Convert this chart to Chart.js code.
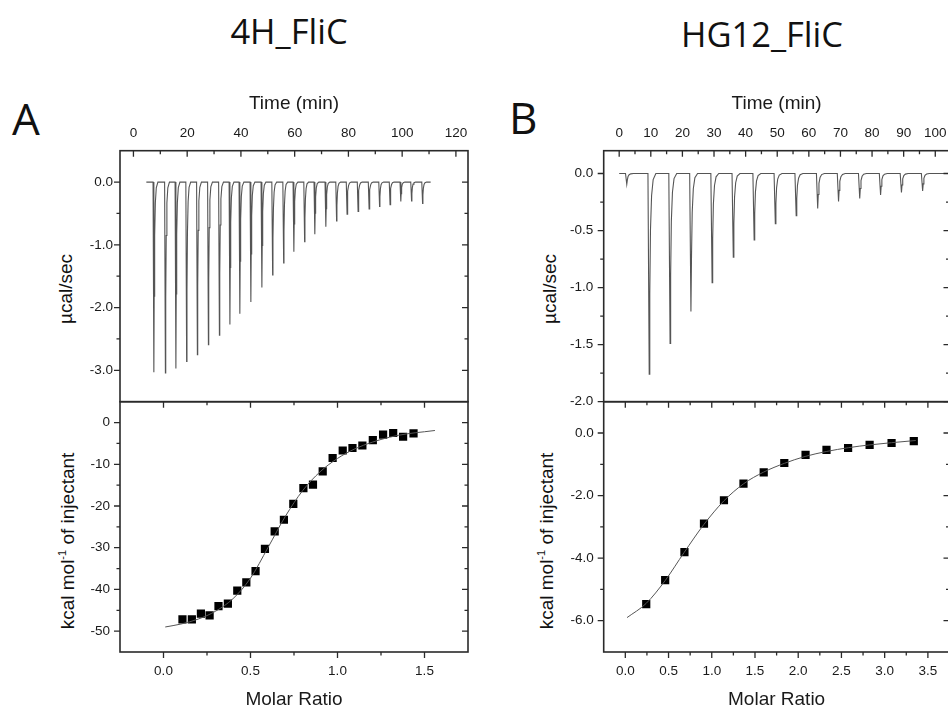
<!DOCTYPE html>
<html>
<head>
<meta charset="utf-8">
<script src="https://cdn.jsdelivr.net/npm/chart.js@4.4.1/dist/chart.umd.min.js"></script>
<style>
  body { margin: 0; width: 948px; height: 708px; overflow: hidden; position: relative; background: #fff; }
  canvas { position: absolute; left: 0; top: 0; }
  .ttl { position: absolute; font-family: 'Open Sans', sans-serif; color: #111; line-height: 1; white-space: nowrap; }
  .ylab { position: absolute; font-family: 'Liberation Sans', Arial, sans-serif; font-size: 19px; color: #111;
          line-height: 1; white-space: nowrap; transform: translate(-50%, -50%) rotate(-90deg); }
  .ylab sup { font-size: 11px; line-height: 0; }
</style>
</head>
<body>
<div class="ttl" style="font-size:34.5px;left:289px;top:14px;transform:translateX(-50%)">4H_FliC</div>
<div class="ttl" style="font-size:34.5px;left:762px;top:17px;transform:translateX(-50%)">HG12_FliC</div>
<div class="ttl" style="font-size:44px;left:12px;top:96px">A</div>
<div class="ttl" style="font-size:44px;left:509px;top:95px">B</div>
<div class="ylab" style="left:65px;top:289px">µcal/sec</div>
<div class="ylab" style="left:67px;top:541px">kcal mol<sup>-1</sup> of injectant</div>
<div class="ylab" style="left:549px;top:289px">µcal/sec</div>
<div class="ylab" style="left:546px;top:541px">kcal mol<sup>-1</sup> of injectant</div>

<canvas id="aTop" width="960" height="730"></canvas>
<canvas id="aBot" width="960" height="730"></canvas>
<canvas id="bTop" width="960" height="730"></canvas>
<canvas id="bBot" width="960" height="730"></canvas>

<script>
// ---- panel A: 4H_FliC ----
// injection peaks (time in min, minimum in µcal/sec)
const peakTimeA  = [7.6, 11.9, 15.8, 19.8, 23.8, 27.9, 32.0, 35.9, 39.6, 43.7, 47.8, 51.8, 55.9,
                    59.7, 63.7, 67.5, 71.6, 75.6, 79.5, 83.6, 87.7, 91.6, 95.5, 99.5, 103.5, 107.6]
const peakDepthA = [-3.03, -3.04, -2.97, -2.86, -2.75, -2.59, -2.44, -2.27, -2.10, -1.91, -1.68, -1.48, -1.29,
                    -1.11, -0.95, -0.83, -0.71, -0.62, -0.51, -0.47, -0.43, -0.39, -0.36, -0.31, -0.30, -0.34]
const baselineA  = [4.8, 110.6]
// integrated heats
const ratioA = [0.109, 0.163, 0.215, 0.265, 0.316, 0.370, 0.424, 0.476, 0.529, 0.583, 0.639, 0.692, 0.746,
                0.804, 0.859, 0.915, 0.972, 1.030, 1.086, 1.143, 1.203, 1.262, 1.320, 1.377, 1.437]
const heatA  = [-47.2, -47.2, -45.8, -46.2, -44.0, -43.4, -40.3, -38.3, -35.6, -30.3, -26.1, -23.3, -19.5,
                -15.7, -14.9, -11.7, -8.5, -6.7, -6.1, -5.5, -4.2, -2.9, -2.5, -3.4, -2.6]
// fitted curve
const fitXA = [0.01, 0.1, 0.2, 0.3, 0.4, 0.5, 0.6, 0.7, 0.8, 0.9, 1.0, 1.1, 1.2, 1.3, 1.4, 1.5, 1.56]
const fitYA = [-49.0, -48.3, -47.1, -45.2, -42.2, -37.3, -30.0, -22.5, -16.3, -11.8, -8.6, -6.3, -4.7, -3.5, -2.7, -2.2, -1.9]

// ---- panel B: HG12_FliC ----
const peakTimeB  = [2.4, 9.5, 16.1, 22.7, 29.4, 36.1, 42.7, 49.4, 56.0, 62.8, 69.4, 76.1, 82.7, 89.3, 96.0]
const peakDepthB = [-0.094, -1.76, -1.49, -1.21, -0.956, -0.734, -0.582, -0.44, -0.37, -0.307, -0.246, -0.219, -0.187, -0.167, -0.152]
const baselineB  = [0, 106]
const ratioB = [0.242, 0.461, 0.684, 0.910, 1.141, 1.367, 1.601, 1.839, 2.085, 2.327, 2.577, 2.826, 3.080, 3.337]
const heatB  = [-5.47, -4.70, -3.81, -2.90, -2.15, -1.62, -1.26, -0.96, -0.70, -0.54, -0.48, -0.38, -0.32, -0.26]
const fitXB = [0.02, 0.24, 0.46, 0.68, 0.91, 1.14, 1.37, 1.6, 1.84, 2.08, 2.33, 2.58, 2.83, 3.08, 3.36]
const fitYB = [-5.9, -5.45, -4.72, -3.82, -2.92, -2.17, -1.62, -1.25, -0.97, -0.75, -0.59, -0.47, -0.38, -0.31, -0.24]

// peak outline (offset in min from the minimum, fraction of depth)
const shapeTA = [-0.3, 0, 0.12, 0.3, 0.55, 0.9, 1.5]
const shapeTB = [-0.4, 0, 0.18, 0.4, 0.75, 1.25, 2.1]
const shapeF  = [0, 1, 0.6, 0.28, 0.11, 0.03, 0]

// tick values
const timeMajorA = [0, 20, 40, 60, 80, 100, 120], timeMinorA = [10, 30, 50, 70, 90, 110]
const powMajorA  = [0, -1, -2, -3],               powMinorA  = [-0.5, -1.5, -2.5]
const molMajorA  = [0, 0.5, 1, 1.5],              molMinorA  = [0.25, 0.75, 1.25]
const heatMajorA = [0, -10, -20, -30, -40, -50],  heatMinorA = [-5, -15, -25, -35, -45]
const timeMajorB = [0, 10, 20, 30, 40, 50, 60, 70, 80, 90, 100], timeMinorB = [5, 15, 25, 35, 45, 55, 65, 75, 85, 95]
const powMajorB  = [0, -0.5, -1, -1.5, -2],       powMinorB  = [-0.25, -0.75, -1.25, -1.75]
const molMajorB  = [0, 0.5, 1, 1.5, 2, 2.5, 3, 3.5], molMinorB = [0.25, 0.75, 1.25, 1.75, 2.25, 2.75, 3.25]
const heatMajorB = [0, -2, -4, -6],               heatMinorB = [-1, -3, -5]

const INK = '#1a1a1a'
const LABEL_FONT = { family: "'Liberation Sans', Arial, sans-serif", size: 13.5 }
const TITLE_FONT = { family: "'Liberation Sans', Arial, sans-serif", size: 19 }

function trace(times, depths, base, shapeT) {
    const pts = [{ x: base[0], y: 0 }]
    times.forEach((t, i) => {
        shapeT.forEach((dt, k) => pts.push({ x: t + dt, y: depths[i] * shapeF[k] }))
    })
    pts.push({ x: base[1], y: 0 })
    return pts
}
const xy = (xs, ys) => xs.map((x, i) => ({ x, y: ys[i] }))

function axis(pos, min, max, major, minor, fmt, pad, size, title) {
    return {
        type: 'linear', position: pos, min, max,
        grid: { display: false, drawTicks: false, tickLength: 0 },
        border: { display: false },
        afterBuildTicks: s => {
            s.ticks = major.map(v => ({ value: v, major: true }))
                .concat(minor.map(v => ({ value: v, major: false })))
                .sort((a, b) => a.value - b.value)
        },
        afterFit: s => { if (s.isHorizontal()) s.height = size; else s.width = size },
        ticks: {
            autoSkip: false, maxRotation: 0, padding: pad, color: INK, font: LABEL_FONT,
            callback: (v, i, t) => t[i].major ? fmt(v) : ''
        },
        title: title ? { display: true, text: title, padding: 0, color: INK, font: TITLE_FONT } : { display: false }
    }
}

// box + ticks in the Origin style (out on left/bottom, in on top/right)
const frame = {
    id: 'frame',
    afterDraw(chart, args, opts) {
        const { ctx, chartArea: a, scales } = chart
        ctx.save()
        ctx.strokeStyle = '#2a2a2a'
        ctx.lineWidth = 1.6
        ctx.strokeRect(a.left, a.top, a.right - a.left, a.bottom - a.top)
        ctx.lineWidth = 1.3
        ctx.beginPath()
        scales.x.ticks.forEach(t => {
            const px = scales.x.getPixelForValue(t.value)
            const len = t.major ? 6 : 3.5
            ctx.moveTo(px, a.top); ctx.lineTo(px, a.top + len)
            if (opts.bottom) { ctx.moveTo(px, a.bottom); ctx.lineTo(px, a.bottom + len) }
        })
        scales.y.ticks.forEach(t => {
            const py = scales.y.getPixelForValue(t.value)
            const len = t.major ? 6 : 3.5
            ctx.moveTo(a.left - len, py); ctx.lineTo(a.left, py)
            ctx.moveTo(a.right - len, py); ctx.lineTo(a.right, py)
        })
        ctx.stroke()
        ctx.restore()
    }
}

function make(id, pad, datasets, xAxis, yAxis, bottom) {
    return new Chart(document.getElementById(id), {
        type: 'scatter',
        data: { datasets },
        options: {
            responsive: false, animation: false, devicePixelRatio: 1,
            layout: { padding: pad },
            scales: { x: xAxis, y: yAxis },
            plugins: { legend: { display: false }, tooltip: { enabled: false }, frame: { bottom } }
        },
        plugins: [frame]
    })
}

const thermo = pts => ({ data: pts, showLine: true, borderColor: '#555', borderWidth: 1.1, pointRadius: 0, tension: 0 })
const fitLine = pts => ({ data: pts, showLine: true, borderColor: '#555', borderWidth: 1, pointRadius: 0, cubicInterpolationMode: 'monotone' })
const squares = pts => ({ data: pts, pointStyle: 'rect', pointRadius: 5.8, backgroundColor: '#000', borderWidth: 0 })

const f1 = v => v.toFixed(1)
const f0 = v => String(v)

make('aTop', { left: 60, right: 492, top: 92.6, bottom: 328.3 },
    [thermo(trace(peakTimeA, peakDepthA, baselineA, shapeTA))],
    axis('top', -5, 124.5, timeMajorA, timeMinorA, f0, 9, 58.1, 'Time (min)'),
    axis('left', -3.5, 0.5, powMajorA, powMinorA, f1, 7, 60), false)

make('aBot', { left: 60, right: 492, top: 401.7, bottom: 18.6 },
    [fitLine(xy(fitXA, fitYA)), squares(xy(ratioA, heatA))],
    axis('bottom', -0.25, 1.75, molMajorA, molMinorA, f1, 11, 59.4, 'Molar Ratio'),
    axis('left', -55, 5, heatMajorA, heatMinorA, f0, 10, 60), true)

make('bTop', { left: 543.7, right: 10.5, top: 92.6, bottom: 328.3 },
    [thermo(trace(peakTimeB, peakDepthB, baselineB, shapeTB))],
    axis('top', -4.9, 104.5, timeMajorB, timeMinorB, f0, 9, 58.1, 'Time (min)'),
    axis('left', -2.0, 0.2, powMajorB, powMinorB, f1, 10.5, 60), false)

make('bBot', { left: 543.7, right: 10.5, top: 401.7, bottom: 18.6 },
    [fitLine(xy(fitXB, fitYB)), squares(xy(ratioB, heatB))],
    axis('bottom', -0.25, 3.75, molMajorB, molMinorB, f1, 11, 59.4, 'Molar Ratio'),
    axis('left', -7, 1, heatMajorB, heatMinorB, f1, 10, 60), true)
</script>
</body>
</html>
